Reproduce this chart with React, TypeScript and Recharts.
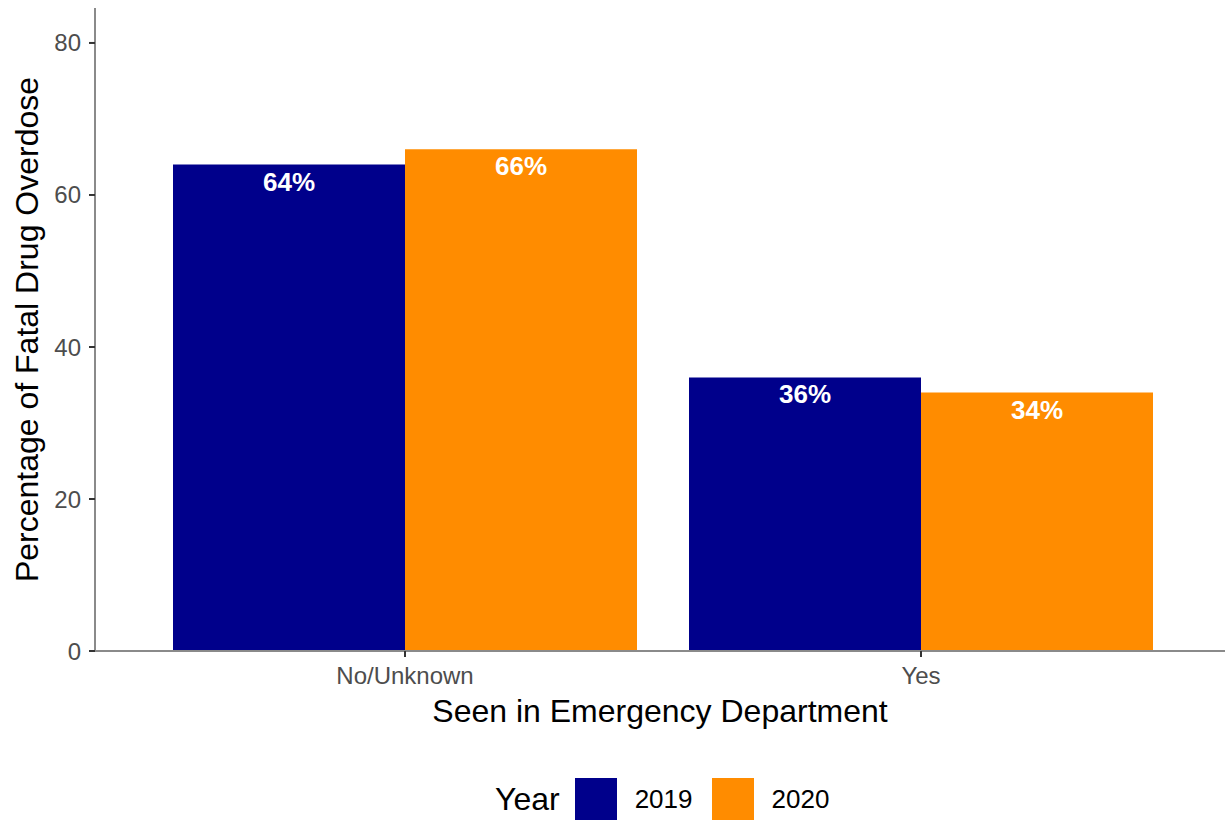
import { BarChart, Bar, XAxis, YAxis, Legend, LabelList } from "recharts";

const categories = ["No/Unknown", "Yes"];
const values2019 = [64, 36];
const values2020 = [66, 34];
const yTicks = [0, 20, 40, 60, 80];
const years = ["2019", "2020"];

const colors = ["#00008b", "#ff8c00"];
const font = "'Liberation Sans', Arial, sans-serif";

const data = categories.map((c, i) => ({
  name: c,
  y2019: values2019[i],
  y2020: values2020[i],
}));

function BarLabel(props: any) {
  const { x, y, width, value } = props;
  return (
    <text
      x={x + width / 2}
      y={y + 17}
      textAnchor="middle"
      dominantBaseline="central"
      fill="#fff"
      fontWeight="bold"
      fontSize={26}
      fontFamily={font}
    >
      {value}%
    </text>
  );
}

function LegendBox() {
  return (
    <div
      style={{
        display: "flex",
        alignItems: "center",
        fontFamily: font,
        height: 42,
      }}
    >
      <span style={{ fontSize: 32, marginRight: 15, color: "#000" }}>Year</span>
      {years.map((yr, i) => (
        <div key={yr} style={{ display: "flex", alignItems: "center" }}>
          <div style={{ width: 42, height: 42, background: colors[i] }} />
          <span style={{ fontSize: 26, margin: "0 19px 0 18px", color: "#000" }}>{yr}</span>
        </div>
      ))}
    </div>
  );
}

export default function App() {
  return (
    <div style={{ position: "absolute", left: 0, top: 0, width: 1225, height: 820, background: "#fff" }}>
      <BarChart
        width={1225}
        height={820}
        data={data}
        margin={{ top: 8, right: 0, left: 0, bottom: 0 }}
        barCategoryGap={26}
        barGap={0}
      >
        <XAxis
          dataKey="name"
          height={127}
          padding={{ left: 52, right: 46 }}
          axisLine={{ stroke: "#8a8a8a", strokeWidth: 2 }}
          tickLine={{ stroke: "#333", strokeWidth: 2 }}
          tickSize={6}
          tickMargin={10}
          tick={{ fill: "#4d4d4d", fontSize: 24, fontFamily: font }}
          label={({ viewBox }: any) => (
            <text
              x={viewBox.x + viewBox.width / 2}
              y={711}
              textAnchor="middle"
              dominantBaseline="central"
              fontSize={32}
              fontFamily={font}
              fill="#000"
            >
              Seen in Emergency Department
            </text>
          )}
        />
        <YAxis
          width={95}
          domain={[0, 84.6]}
          ticks={yTicks}
          axisLine={{ stroke: "#8a8a8a", strokeWidth: 2 }}
          tickLine={{ stroke: "#333", strokeWidth: 2 }}
          tickSize={6}
          tickMargin={8}
          tick={{ fill: "#4d4d4d", fontSize: 24, fontFamily: font }}
          label={({ viewBox }: any) => (
            <text
              x={27}
              y={viewBox.y + viewBox.height / 2}
              textAnchor="middle"
              dominantBaseline="central"
              fontSize={32}
              fontFamily={font}
              fill="#000"
              transform={`rotate(-90, 27, ${viewBox.y + viewBox.height / 2})`}
            >
              Percentage of Fatal Drug Overdose
            </text>
          )}
        />
        <Legend
          content={() => <LegendBox />}
          wrapperStyle={{ position: "absolute", left: 495, top: 778, width: "auto" }}
        />
        <Bar dataKey="y2019" name="2019" fill={colors[0]} isAnimationActive={false}>
          <LabelList dataKey="y2019" content={BarLabel} />
        </Bar>
        <Bar dataKey="y2020" name="2020" fill={colors[1]} isAnimationActive={false}>
          <LabelList dataKey="y2020" content={BarLabel} />
        </Bar>
      </BarChart>
    </div>
  );
}
